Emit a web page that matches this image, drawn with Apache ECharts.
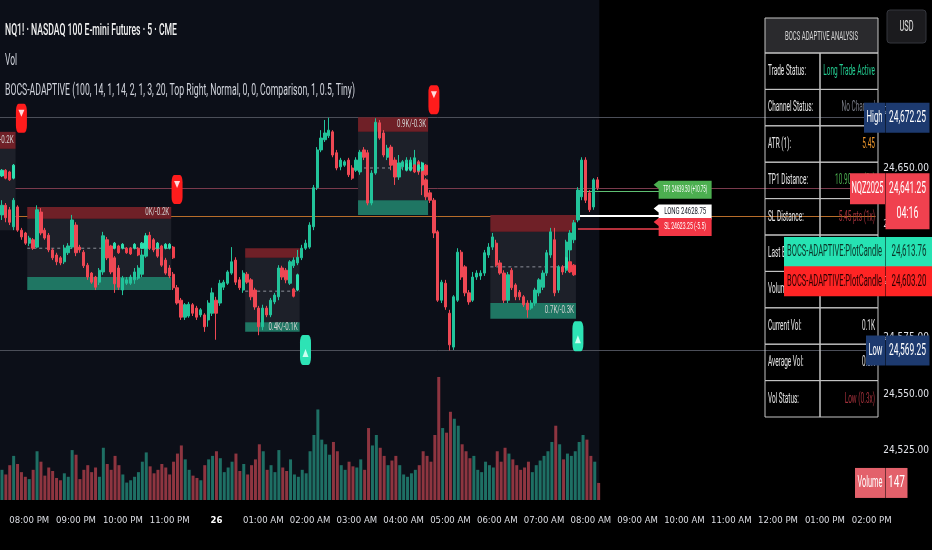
<!DOCTYPE html>
<html>
<head>
<meta charset="utf-8">
<title>NQ1! BOCS Adaptive</title>
<script src="https://cdn.jsdelivr.net/npm/echarts@6.0.0/dist/echarts.min.js"></script>
<style>
html,body{margin:0;padding:0;background:#000;}
#chart{width:932px;height:550px;}
</style>
</head>
<body>
<div id="chart"></div>
<script>
// ================= DATA =================
const hourTicks  = ['20:00','21:00','22:00','23:00','00:00','01:00','02:00','03:00','04:00','05:00','06:00','07:00','08:00','09:00','10:00','11:00','12:00','13:00','14:00'];
const hourLabels = ['08:00 PM','09:00 PM','10:00 PM','11:00 PM','26','01:00 AM','02:00 AM','03:00 AM','04:00 AM','05:00 AM','06:00 AM','07:00 AM','08:00 AM','09:00 AM','10:00 AM','11:00 AM','12:00 PM','01:00 PM','02:00 PM'];
const priceTicks = [24525, 24550, 24575, 24600, 24625, 24650, 24675];

const openP = [
24629.25,24633.5,24631.5,24624.0,24632.75,24622.5,24621.25,24616.75,24618.25,24615.0,
24630.5,24622.5,24620.25,24613.75,24611.5,24610.25,24608.5,24612.5,24615.0,24624.75,
24615.0,24612.75,24607.0,24603.5,24601.75,24599.5,24604.0,24618.25,24613.75,24610.25,
24605.75,24596.0,24599.0,24599.0,24600.5,24601.25,24603.0,24611.0,24620.0,24618.25,
24616.25,24614.25,24609.25,24605.75,24603.0,24597.0,24591.5,24584.0,24584.5,24589.5,
24588.0,24585.0,24585.0,24582.75,24585.75,24591.5,24590.25,24597.25,24599.0,24603.5,
24609.25,24600.5,24596.0,24603.0,24600.5,24596.0,24588.0,24579.75,24588.0,24585.0,
24590.75,24593.0,24605.75,24604.75,24599.0,24606.75,24608.0,24610.25,24614.5,24615.0,
24624.0,24641.25,24658.0,24662.5,24664.25,24666.0,24656.75,24650.5,24651.25,24653.5,
24650.0,24649.0,24648.25,24658.0,24656.75,24634.5,24647.75,24670.0,24665.5,24654.75,
24659.25,24653.5,24646.0,24650.5,24651.75,24650.5,24649.0,24652.75,24650.5,24644.75,
24639.0,24635.75,24621.75,24591.5,24599.0,24585.75,24570.75,24591.5,24612.75,24606.25,
24594.75,24591.5,24601.75,24602.25,24603.5,24611.5,24615.0,24616.75,24608.0,24603.5,
24591.5,24604.75,24598.25,24595.0,24593.0,24590.25,24588.0,24590.25,24594.75,24597.25,
24603.5,24611.5,24618.25,24596.0,24606.25,24604.75,24613.75,24618.25,24627.0,24637.25,
24653.5,24639.0,24632.75,24644.75
];
const closeP = [
24633.5,24628.0,24626.0,24635.75,24622.5,24619.5,24616.75,24619.0,24614.5,24631.5,
24621.25,24619.0,24613.75,24610.25,24608.5,24608.0,24614.5,24615.5,24627.0,24612.5,
24613.75,24606.75,24601.75,24599.5,24597.25,24604.75,24620.0,24610.25,24604.0,24598.75,
24597.25,24601.25,24600.5,24601.75,24604.0,24605.75,24611.5,24619.5,24615.0,24613.75,
24611.0,24607.0,24603.5,24602.25,24597.0,24590.25,24584.0,24589.5,24589.75,24585.75,
24584.0,24587.25,24579.75,24590.25,24594.75,24585.75,24599.0,24599.5,24604.0,24608.5,
24599.5,24597.0,24603.5,24599.5,24593.0,24588.5,24579.75,24588.0,24585.0,24591.5,
24593.75,24605.75,24601.75,24600.5,24608.5,24609.25,24610.5,24614.5,24616.75,24624.75,
24641.25,24658.0,24663.25,24665.5,24666.75,24655.75,24650.0,24653.5,24652.75,24647.0,
24645.5,24653.5,24657.0,24654.75,24634.5,24647.75,24670.25,24663.25,24655.75,24658.75,
24651.25,24646.0,24652.25,24652.75,24653.5,24653.5,24654.5,24648.25,24642.5,24637.25,
24635.75,24621.25,24591.5,24599.5,24588.5,24571.75,24593.0,24612.75,24601.75,24594.75,
24590.75,24601.75,24603.5,24603.5,24612.5,24615.0,24619.5,24607.0,24603.5,24591.5,
24602.75,24597.0,24593.0,24593.0,24589.5,24587.25,24590.25,24596.0,24600.5,24603.5,
24612.5,24621.75,24594.75,24606.25,24604.0,24617.25,24621.25,24625.75,24640.25,24653.5,
24635.75,24631.5,24644.75,24641.25
];
const lowP = [
24627.0,24626.0,24624.75,24622.5,24621.75,24618.25,24616.0,24615.5,24613.75,24614.5,
24620.25,24618.25,24612.75,24609.25,24607.0,24607.0,24607.5,24611.5,24614.25,24611.0,
24612.5,24605.75,24600.5,24598.75,24596.0,24598.25,24602.75,24609.25,24603.0,24594.75,
24596.0,24593.75,24598.25,24598.25,24598.75,24600.5,24601.75,24610.25,24613.75,24612.75,
24610.25,24606.25,24602.75,24601.25,24596.0,24589.5,24582.75,24582.75,24583.75,24584.5,
24582.75,24584.0,24577.5,24579.75,24584.5,24574.0,24589.0,24596.0,24598.25,24602.75,
24598.25,24596.0,24594.75,24598.75,24591.5,24587.25,24576.0,24578.25,24584.0,24584.0,
24589.75,24591.5,24600.5,24599.0,24598.25,24605.75,24607.0,24609.25,24613.75,24614.25,
24622.5,24640.25,24657.0,24661.5,24663.25,24654.75,24649.0,24649.0,24650.5,24646.0,
24644.75,24648.25,24647.0,24653.5,24633.5,24633.5,24647.0,24662.5,24654.75,24653.5,
24649.0,24642.5,24644.75,24649.0,24650.5,24649.0,24648.25,24647.0,24638.0,24635.75,
24634.5,24619.0,24590.75,24590.25,24587.25,24569.25,24569.5,24590.75,24600.5,24593.25,
24589.5,24590.75,24600.5,24600.5,24602.25,24610.25,24613.75,24606.25,24602.75,24590.25,
24590.25,24596.0,24591.5,24591.5,24588.5,24583.75,24587.25,24589.0,24593.25,24596.0,
24602.25,24610.25,24593.25,24594.75,24602.75,24603.5,24604.75,24616.75,24626.0,24635.75,
24634.5,24630.5,24631.5,24640.25
];
const highP = [
24635.75,24634.5,24632.75,24636.75,24633.5,24623.5,24621.75,24620.0,24619.0,24633.5,
24632.25,24623.5,24621.25,24614.5,24612.5,24611.0,24616.0,24616.75,24629.25,24626.0,
24616.0,24613.75,24608.0,24604.0,24602.25,24605.75,24621.75,24619.5,24614.5,24611.0,
24607.0,24602.25,24601.75,24602.75,24605.75,24607.0,24613.75,24621.25,24621.75,24619.0,
24617.25,24615.0,24610.25,24607.0,24604.0,24598.25,24592.5,24590.25,24590.75,24590.25,
24589.0,24588.0,24585.75,24591.5,24597.0,24593.0,24600.5,24600.5,24604.75,24615.0,
24610.5,24601.75,24604.75,24604.0,24601.25,24597.0,24589.0,24589.5,24589.0,24592.5,
24594.75,24607.0,24606.75,24605.75,24609.25,24610.5,24613.75,24616.0,24618.25,24626.0,
24642.5,24659.25,24666.75,24671.25,24672.25,24666.75,24658.0,24654.5,24653.5,24654.5,
24651.25,24654.75,24658.0,24659.25,24658.0,24649.0,24672.0,24671.25,24666.75,24660.25,
24660.25,24654.75,24655.75,24653.5,24654.75,24654.75,24658.0,24653.5,24651.25,24645.5,
24640.25,24636.75,24622.5,24600.5,24600.5,24587.25,24593.75,24614.5,24613.75,24607.0,
24596.0,24604.0,24604.75,24604.75,24613.75,24616.75,24621.25,24618.25,24609.25,24604.75,
24604.0,24605.75,24599.0,24596.0,24593.75,24591.5,24591.5,24597.0,24601.25,24604.75,
24613.75,24623.5,24623.5,24607.0,24607.0,24618.25,24622.5,24627.0,24641.5,24654.75,
24654.75,24640.25,24645.5,24646.0
];
const volumes = [
260,220,300,380,310,240,200,180,260,420,
330,210,280,250,190,170,230,200,430,390,
180,260,300,240,280,200,450,310,260,380,
300,220,150,170,200,240,330,410,290,230,
260,310,280,220,330,400,470,350,260,210,
190,170,300,350,380,420,360,240,280,330,
400,250,310,220,300,350,480,420,260,300,
240,430,280,250,350,220,200,260,230,420,
560,780,520,480,390,500,420,300,260,330,
290,280,350,260,620,470,560,450,380,300,
340,380,300,220,200,230,260,300,420,380,
330,560,1060,620,580,760,700,640,480,420,
360,380,260,240,330,300,280,420,330,450,
400,350,300,260,280,330,240,300,340,380,
420,500,640,480,350,400,380,420,500,560,
520,380,330,147
];
// BOCS "PlotCandle" overlay candles
const ovIdx   = [0,1,2,3,27,28,29,30,31,32,33,34,35,36,37,38,39,40,41,42,43,44,75,76,104,105,106,107,108,109,145,146,147];
const ovOpen  = [24646.5,24649.0,24648.25,24645.5,24616.75,24615.5,24614.5,24615.5,24614.5,24614.5,24614.5,24614.5,24614.5,24614.5,24614.5,24620.25,24616.75,24614.5,24615.5,24614.5,24614.5,24615.0,24596.5,24596.0,24649.0,24649.0,24651.25,24649.0,24649.0,24651.25,24605.75,24608.5,24607.0];
const ovClose = [24649.0,24645.5,24644.75,24651.25,24610.5,24610.25,24616.75,24612.5,24616.25,24612.5,24612.0,24616.25,24611.5,24616.75,24620.0,24614.5,24614.5,24616.75,24611.0,24616.25,24616.25,24610.25,24593.25,24602.75,24651.75,24652.25,24648.25,24651.25,24652.25,24647.0,24610.25,24604.0,24602.75];
const ovLow   = [24646.0,24645.0,24644.25,24645.0,24610.0,24609.75,24614.0,24612.0,24614.0,24612.0,24611.5,24614.0,24611.0,24614.0,24614.0,24614.0,24614.0,24614.0,24610.5,24614.0,24614.0,24609.75,24592.75,24595.5,24648.5,24648.5,24647.75,24648.5,24648.5,24646.5,24605.25,24603.5,24602.25];
const ovHigh  = [24649.5,24649.5,24648.75,24651.75,24617.25,24616.0,24617.25,24616.0,24616.75,24615.0,24615.0,24616.75,24615.0,24617.25,24620.5,24620.75,24617.25,24617.25,24616.0,24616.75,24616.75,24615.5,24597.0,24603.25,24652.25,24652.75,24651.75,24651.75,24652.75,24651.75,24610.75,24609.0,24607.5];
// BOCS channel boxes
const boxStart  = [0, 7, 63, 92, 126];
const boxEnd    = [3, 43, 76, 109, 147];
const boxTop    = [24666.0, 24632.75, 24614.5, 24672.5, 24629.25];
const boxHdr    = [24658.5, 24627.5, 24610.25, 24666.0, 24621.75];
const boxFtr    = [24622.5, 24601.75, 24581.75, 24635.75, 24590.25];
const boxBot    = [24622.5, 24596.0, 24577.5, 24629.25, 24583.25];
const boxMid    = [NaN, 24614.5, 24595.5, 24650.0, 24606.25];
const boxLabels = ['0.1K/-0.2K','0K/-0.2K','0.4K/-0.1K','0.9K/-0.3K','0.7K/-0.3K'];
const boxLabelPos = ['top','top','bottom','top','bottom'];
// signals
const sellIdx = [5, 45, 111];
const sellPrice = [24672.0, 24640.5, 24680.25];
const buyIdx = [78, 148];
const buyPrice = [24569.5, 24575.5];
// levels
const highLevel = 24672.25, lowLevel = 24569.25, lastPrice = 24641.25;
const entryPrice = 24628.75, tpPrice = 24639.50, slPrice = 24623.25;
const plotCandleUp = 24613.76, plotCandleDn = 24603.20, lastVolume = 147;
// table
const tableLabels = ['Trade Status:','Channel Status:','ATR (1):','TP1 Distance:','SL Distance:','Last Breakout:','Volume Confirm:','Current Vol:','Average Vol:','Vol Status:'];
const tableValues = ['Long Trade Active','No Channel','5.45','10.90 pts (2x)','5.45 pts (1x)','Bullish','Weak','0.1K','0.3K','Low (0.3x)'];
const tableColors = ['#22c98f','#787b86','#f29a2e','#4caf50','#a3313b','#4caf50','#a3313b','#e6e6e6','#e6e6e6','#a3313b'];

// ================= SETUP =================
const N = openP.length, NC = 225, START_MIN = 19*60+25;
const cats = [];
for (let i = 0; i < NC; i++) {
  const m = (START_MIN + 5*i) % 1440;
  cats.push(String(Math.floor(m/60)).padStart(2,'0') + ':' + String(m%60).padStart(2,'0'));
}
const cv = document.createElement('canvas').getContext('2d');
function hasFont(f){ cv.font='40px monospace'; const a=cv.measureText('mmmiiilll0123,.WW').width; cv.font='40px "'+f+'", monospace'; return cv.measureText('mmmiiilll0123,.WW').width!==a; }
const NARROW = hasFont('Liberation Sans Narrow') ? '"Liberation Sans Narrow"' : (hasFont('DejaVu Sans Condensed') ? '"DejaVu Sans Condensed"' : 'Roboto');
const BASE = 'Roboto, "Liberation Sans", sans-serif';
function mw(str,size,fam,wt){ cv.font=(wt||'normal')+' '+size+'px '+fam; return cv.measureText(str).width; }
function fitSize(str,fam,maxW){ let s=16; while(s>8 && mw(str,s,fam)>maxW) s-=0.5; return s; }
const axisFS = fitSize('24,550.00', NARROW, 46);
const timeFS = fitSize('08:00 PM', NARROW, 41);

const UP='#22c39a', DN='#ee4854', VUP='#1e6f64', VDN='#8e3540';
const GRID_W = NC*3.9;

const chart = echarts.init(document.getElementById('chart'));
const ohlc = openP.map((o,i)=>[o, closeP[i], lowP[i], highP[i]]);
const ovData = ovIdx.map((x,k)=>[x, ovOpen[k], ovClose[k], ovLow[k], ovHigh[k]]);
const volData = volumes.map((v,i)=>({value:v, itemStyle:{color: closeP[i]>=openP[i]?VUP:VDN}}));
const boxData = boxStart.map((s,k)=>[s, boxEnd[k], boxTop[k], boxHdr[k], boxFtr[k], boxBot[k], boxMid[k]]);
const labelK = 24 / mw('0K/-0.2K', 10, BASE);

function renderBox(params, api){
  const s=api.value(0), e=api.value(1);
  const bw = api.size([1,0])[0];
  const X0 = api.coord([s, api.value(2)])[0] - bw/2;
  const X1 = api.coord([e, api.value(2)])[0] + bw/2;
  const Y = k => api.coord([s, api.value(k)])[1];
  const yT=Y(2), yH=Y(3), yF=Y(4), yB=Y(5);
  const ch = [
    {type:'rect', shape:{x:X0,y:yH,width:X1-X0,height:yF-yH}, style:{fill:'#1d2029'}},
    {type:'rect', shape:{x:X0,y:yT,width:X1-X0,height:yH-yT}, style:{fill:'#6f2027'}},
    {type:'rect', shape:{x:X0,y:yF,width:X1-X0,height:yB-yF}, style:{fill:'#1f7663'}}
  ];
  const m = api.value(6);
  if (!isNaN(m)) { const ym=api.coord([s,m])[1]; ch.push({type:'line', shape:{x1:X0,y1:ym,x2:X1,y2:ym}, style:{stroke:'#8c8f98', lineWidth:1, lineDash:[3,3]}}); }
  const i = params.dataIndex;
  const ly = boxLabelPos[i]==='top' ? (yT+yH)/2 : (yF+yB)/2;
  ch.push({type:'text', x:X1-2, y:ly, scaleX:labelK, style:{text:boxLabels[i], fill:'#cfcfcf', font:'10px '+BASE, align:'right', verticalAlign:'middle', textAlign:'right', textVerticalAlign:'middle'}});
  return {type:'group', children:ch};
}

const fullLine = (p,c,w)=>({yAxis:p, lineStyle:{color:c, width:w||1, type:'solid'}});
const shortLine = (i0,i1,p,c,w)=>[{coord:[cats[i0],p], lineStyle:{color:c,width:w,type:'solid'}},{coord:[cats[i1],p]}];

chart.setOption({
  backgroundColor:'#000000',
  animation:false,
  grid:[
    {left:0, top:0, width:GRID_W, height:500},
    {left:0, top:370, width:GRID_W, height:130}
  ],
  xAxis:[
    {type:'category', gridIndex:0, data:cats, boundaryGap:true, show:false},
    {type:'category', gridIndex:1, data:cats, boundaryGap:true,
     axisLine:{show:false}, axisTick:{show:false}, splitLine:{show:false},
     axisLabel:{interval:(idx,val)=>hourTicks.indexOf(val)>=0,
       formatter:(val)=>{const k=hourTicks.indexOf(val); return k===4?'{b|'+hourLabels[k]+'}':hourLabels[k];},
       color:'#dcdee4', fontSize:timeFS, fontFamily:NARROW, margin:16,
       rich:{b:{fontWeight:'bold', color:'#ffffff', fontSize:timeFS, fontFamily:NARROW}}}}
  ],
  yAxis:[
    {type:'value', gridIndex:0, position:'right', min:24503.097, max:24724.336,
     axisLine:{show:false}, axisTick:{show:false}, splitLine:{show:false},
     axisLabel:{customValues:priceTicks, color:'#e2e4ea', fontSize:axisFS, fontFamily:NARROW, margin:30.5, align:'center',
       formatter:v=>v.toLocaleString('en-US',{minimumFractionDigits:2, maximumFractionDigits:2})}},
    {type:'value', gridIndex:1, min:0, max:1120, show:false}
  ],
  series:[
    {type:'custom', name:'boxes', xAxisIndex:0, yAxisIndex:0, z:1, silent:true, clip:true, data:boxData, renderItem:renderBox},
    {type:'bar', name:'Volume', xAxisIndex:1, yAxisIndex:1, z:2, barWidth:3, data:volData, silent:true},
    {type:'candlestick', name:'NQ1!', xAxisIndex:0, yAxisIndex:0, z:3, barWidth:2.8, data:ohlc, silent:true,
     itemStyle:{color:UP, color0:DN, borderColor:UP, borderColor0:DN, borderWidth:1},
     markLine:{silent:true, symbol:['none','none'], label:{show:false}, z:1,
       data:[
         fullLine(highLevel,'#4b4e58'),
         fullLine(lowLevel,'#4b4e58'),
         fullLine(lastPrice,'#7a3a4c'),
         fullLine(entryPrice,'#b86d2a'),
         shortLine(149,169,tpPrice,'#5fbf73',1),
         shortLine(148,169,entryPrice,'#ffffff',2),
         shortLine(148,169,slPrice,'#f0404f',1.5)
       ]}},
    {type:'candlestick', name:'PlotCandle', xAxisIndex:0, yAxisIndex:0, z:4, barWidth:2.8, data:ovData, silent:true,
     encode:{x:0, y:[1,2,3,4]},
     itemStyle:{color:'#2ee0b0', color0:'#f0404c', borderColor:'#2ee0b0', borderColor0:'#f0404c', borderWidth:1}},
    {type:'scatter', name:'sell', xAxisIndex:0, yAxisIndex:0, z:5, silent:true, symbol:'roundRect', symbolSize:[11,29],
     data:sellIdx.map((x,k)=>[x, sellPrice[k]]), itemStyle:{color:'#ff1c1c', opacity:1}},
    {type:'scatter', name:'sellArrow', xAxisIndex:0, yAxisIndex:0, z:6, silent:true, symbol:'triangle', symbolRotate:180, symbolSize:[6,7], symbolOffset:[0,-5],
     data:sellIdx.map((x,k)=>[x, sellPrice[k]]), itemStyle:{color:'#ffd9d9', opacity:1}},
    {type:'scatter', name:'buy', xAxisIndex:0, yAxisIndex:0, z:5, silent:true, symbol:'roundRect', symbolSize:[11,30],
     data:buyIdx.map((x,k)=>[x, buyPrice[k]]), itemStyle:{color:'#2de3b5', opacity:1}},
    {type:'scatter', name:'buyArrow', xAxisIndex:0, yAxisIndex:0, z:6, silent:true, symbol:'triangle', symbolSize:[6,8], symbolOffset:[0,3],
     data:buyIdx.map((x,k)=>[x, buyPrice[k]]), itemStyle:{color:'#c9fff0', opacity:1}}
  ]
});

// ================= OVERLAYS =================
const yOf = p => chart.convertToPixel({yAxisIndex:0}, p);
const xOf = c => chart.convertToPixel({xAxisIndex:0}, c);
function T(str,x,y,o){ o=o||{}; const size=o.size||15, fam=o.fam||BASE, wt=o.weight||'normal';
  let sx = o.sx||1; if (o.w) sx = o.w / mw(str,size,fam,wt);
  const al=o.align||'left';
  return {type:'text', x:x, y:y, scaleX:sx, z:o.z||100, silent:true,
    style:{text:str, fill:o.color||'#d1d4dc', font:wt+' '+size+'px '+fam, align:al, verticalAlign:'middle', textAlign:al, textVerticalAlign:'middle'}};
}
function R(x,y,w,h,fill,o){ o=o||{}; return {type:'rect', z:o.z||100, silent:true, shape:{x:x,y:y,width:w,height:h,r:o.r||0}, style:{fill:fill, stroke:o.stroke||null, lineWidth:o.lw||1}}; }
const G = [];
// candle-area background (session area)
const lastBandRight = xOf(cats[N-1]) + 1.95;
G.push({type:'rect', z:0, silent:true, shape:{x:0,y:0,width:lastBandRight,height:500}, style:{fill:'#0c0f18'}});

// header
G.push(T('NQ1! · NASDAQ 100 E-mini Futures · 5 · CME', 5, 31, {size:16, w:172, color:'#f0f0f0', weight:'500'}));
G.push(T('Vol', 5, 61, {size:16, w:12, color:'#d1d4dc'}));
G.push(T('BOCS-ADAPTIVE (100, 14, 1, 14, 2, 1, 3, 20, Top Right, Normal, 0, 0, Comparison, 1, 0.5, Tiny)', 5, 91, {size:16, w:350, color:'#d1d4dc'}));

// table
const TX0=765, TXM=820, TX1=878, TY0=18, TH0=35, RH=36.4, BC='#c4c4c4';
G.push(R(TX0, TY0, TX1-TX0, TH0, '#2a2a2d', {stroke:BC, z:90}));
G.push(T('BOCS ADAPTIVE ANALYSIS', (TX0+TX1)/2, TY0+TH0/2+1, {size:13, w:73, align:'center', color:'#d6d6d6', z:91}));
const kT = 38 / mw('Trade Status:', 15, BASE);
tableLabels.forEach((lb,i)=>{
  const y = TY0+TH0+i*RH;
  G.push(R(TX0, y, TXM-TX0, RH, null, {stroke:BC, z:90}));
  G.push(R(TXM, y, TX1-TXM, RH, null, {stroke:BC, z:90}));
  G.push(T(lb, TX0+3, y+RH/2, {size:15, sx:kT, color:'#e6e6e6', z:91}));
  G.push(T(tableValues[i], TX1-3, y+RH/2, {size:15, sx:kT, color:tableColors[i], align:'right', z:91}));
});

// USD box
G.push(R(887, 10, 39, 33, '#1b1b1e', {stroke:'#34363d', r:3}));
G.push(T('USD', 906.5, 27, {size:15, w:14, align:'center', color:'#e0e0e0'}));

// price-axis tags
function tag(yc, h, nameX, nameStr, nameW, priceStr, priceW, bg, fg, extra){
  const top = yc - 15;
  const priceBoxW = 929 - 885;
  G.push(R(nameX, top, 885-nameX, h, bg, {z:110}));
  G.push(R(885.5, top, priceBoxW + (extra&&extra.pw||0), extra&&extra.ph||h, bg, {z:110}));
  G.push(T(nameStr, (nameX+885)/2, yc, {size:17, w:nameW, align:'center', color:fg, z:111}));
  G.push(T(priceStr, 907.5 + (extra&&extra.pw||0)/2, yc, {size:17, w:priceW, align:'center', color:fg, z:111}));
}
tag(yOf(highLevel), 30, 864, 'High', 16, '24,672.25', 37, '#1d3a6f', '#ffffff');
tag(yOf(lastPrice)+0.5, 31, 850, 'NQZ2025', 32, '24,641.25', 37, '#f0414f', '#ffffff', {ph:56});
G.push(T('04:16', 907.5, yOf(lastPrice)+26, {size:17, w:22, align:'center', color:'#ffffff', z:111}));
tag(yOf(plotCandleUp)+2, 30, 784, 'BOCS-ADAPTIVE:PlotCandle', 95, '24,613.76', 35, '#26e3b3', '#0b3327', {pw:3});
tag(yOf(plotCandleDn)+7.5, 30, 784, 'BOCS-ADAPTIVE:PlotCandle', 95, '24,603.20', 35, '#ff2424', '#2a0000', {pw:3});
tag(yOf(lowLevel), 30, 866, 'Low', 14, '24,569.25', 37, '#1d3a6f', '#ffffff');
const yv = chart.convertToPixel({yAxisIndex:1}, lastVolume);
G.push(R(855, yv-15, 30, 30, '#e3616b', {z:110}));
G.push(R(885.5, yv-15, 22, 30, '#e3616b', {z:110}));
G.push(T('Volume', 870, yv, {size:17, w:25, align:'center', color:'#ffffff', z:111}));
G.push(T(String(lastVolume), 896.5, yv, {size:17, w:17, align:'center', color:'#ffffff', z:111}));

// trade labels (TP / entry / SL)
const xL = xOf(cats[169]) - 1;
function tradeLabel(yc, h, bg, fg, str, w){
  G.push({type:'polygon', z:60, silent:true, shape:{points:[[xL-5,yc-h/2+4],[xL,yc-h/2],[xL+53,yc-h/2],[xL+53,yc+h/2],[xL,yc+h/2],[xL,yc-h/2+8]]}, style:{fill:bg}});
  G.push(T(str, xL+26.5, yc, {size:9, w:w, align:'center', color:fg, z:61}));
}
tradeLabel(yOf(tpPrice)-2, 18, '#4caf50', '#ffffff', 'TP1 24639.50 (+10.75)', 44);
tradeLabel(yOf(entryPrice)-4, 15, '#ffffff', '#131722', 'LONG 24628.75', 42);
tradeLabel(yOf(slPrice)-1.5, 18, '#f23645', '#ffffff', 'SL 24623.25 (-5.5)', 42);

chart.setOption({graphic: G});
</script>
</body>
</html>
